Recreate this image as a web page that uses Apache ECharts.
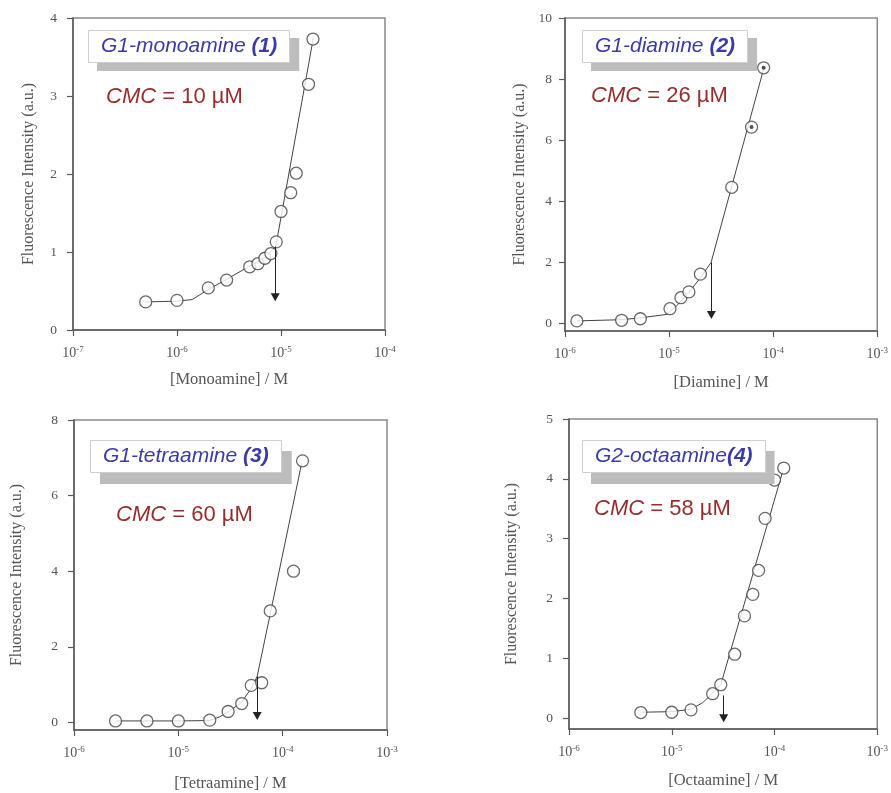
<!DOCTYPE html>
<html>
<head>
<meta charset="utf-8">
<script src="https://cdn.jsdelivr.net/npm/echarts@6/dist/echarts.min.js"></script>
<style>html,body{margin:0;padding:0;background:#fff;}#c{width:891px;height:793px;}</style>
</head>
<body>
<div id="c"></div>
<script>
// ---------- data ----------
const labels = ['G1-monoamine ', 'G1-diamine ', 'G1-tetraamine ', 'G2-octaamine'];
const labelNums = ['(1)', '(2)', '(3)', '(4)'];
const cmcTexts = ['10 µM', '26 µM', '60 µM', '58 µM'];
const xNames = ['[Monoamine] / M', '[Diamine] / M', '[Tetraamine] / M', '[Octaamine] / M'];
const yName = 'Fluorescence Intensity (a.u.)';

const xMin = [1e-7, 1e-6, 1e-6, 1e-6];
const xMax = [1e-4, 1e-3, 1e-3, 1e-3];
const yMin = [0, -0.24, -0.2, -0.18];
const yMax = [4, 10, 8, 5];
const yTicks1 = [0, 1, 2, 3, 4];
const yTicks2 = [0, 2, 4, 6, 8, 10];
const yTicks3 = [0, 2, 4, 6, 8];
const yTicks4 = [0, 1, 2, 3, 4, 5];

// measured points
const mono_x = [5e-7, 1e-6, 2e-6, 3e-6, 5e-6, 6e-6, 7e-6, 8e-6, 9e-6, 1e-5, 1.24e-5, 1.4e-5, 1.84e-5, 2.03e-5];
const mono_y = [0.36, 0.38, 0.54, 0.64, 0.81, 0.85, 0.92, 0.98, 1.13, 1.52, 1.76, 2.01, 3.15, 3.73];
const di_x = [1.3e-6, 3.5e-6, 5.3e-6, 1.02e-5, 1.3e-5, 1.55e-5, 2.0e-5, 4.0e-5, 6.2e-5, 8.1e-5];
const di_y = [0.09, 0.11, 0.16, 0.49, 0.85, 1.04, 1.62, 4.46, 6.43, 8.37];
const tetra_x = [2.5e-6, 5e-6, 1e-5, 2e-5, 3e-5, 4.05e-5, 5e-5, 6.3e-5, 7.6e-5, 1.27e-4, 1.55e-4];
const tetra_y = [0.04, 0.04, 0.04, 0.06, 0.29, 0.5, 0.98, 1.05, 2.95, 4.0, 6.92];
const octa_x = [5e-6, 1e-5, 1.54e-5, 2.5e-5, 3e-5, 4.1e-5, 5.1e-5, 6.15e-5, 7e-5, 8.1e-5, 1e-4, 1.23e-4];
const octa_y = [0.095, 0.1, 0.14, 0.41, 0.56, 1.07, 1.71, 2.07, 2.47, 3.34, 3.98, 4.18];
// points of panel 2 drawn with a dark centre (overlapping duplicate markers)
const di_dotted_x = [6.2e-5, 8.1e-5];
const di_dotted_y = [6.43, 8.37];

// fitted curves
const fit1_x = [5e-7, 1e-6, 1.4e-6, 2e-6, 3e-6, 5e-6, 7e-6, 8.9e-6, 2.05e-5];
const fit1_y = [0.36, 0.37, 0.39, 0.52, 0.65, 0.82, 0.93, 1.07, 3.75];
const fit2_x = [1.3e-6, 3.5e-6, 5.3e-6, 9.4e-6, 1.18e-5, 1.53e-5, 2e-5, 2.53e-5, 8.2e-5];
const fit2_y = [0.09, 0.13, 0.19, 0.3, 0.58, 1.0, 1.5, 2.0, 8.4];
const fit3_x = [2.5e-6, 5e-6, 1e-5, 2e-5, 2.5e-5, 3e-5, 4e-5, 5e-5, 5.7e-5, 1.52e-4];
const fit3_y = [0.04, 0.04, 0.04, 0.05, 0.15, 0.28, 0.52, 0.9, 1.22, 6.85];
const fit4_x = [5e-6, 1e-5, 1.54e-5, 2e-5, 2.5e-5, 3e-5, 1.2e-4];
const fit4_y = [0.1, 0.11, 0.15, 0.26, 0.42, 0.56, 4.12];

// CMC arrows
const arrowX = [8.8e-6, 2.55e-5, 5.7e-5, 3.2e-5];
const arrowFrom = [1.07, 2.0, 1.22, 0.38];
const arrowTo = [0.42, 0.28, 0.17, 0.0];

// ---------- layout ----------
const grids = [
  {left: 73, top: 18, width: 312, height: 312},
  {left: 565, top: 18, width: 313, height: 313},
  {left: 74, top: 420, width: 313, height: 313},
  {left: 569, top: 419, width: 309, height: 310}
];
const yNameGap = [36, 37, 49, 49];
const xNameGap = [41, 43, 45, 43];
const yLabelMargin = [16, 13, 16, 16];
const labelPos = [[88, 30], [582, 30], [90, 440], [582, 440]];
const shadowOff = [[9, 8], [9, 8], [10, 11], [9, 11]];
const cmcPos = [[106, 86], [591, 85], [116, 504], [594, 498]];

const pts = [[mono_x, mono_y], [di_x, di_y], [tetra_x, tetra_y], [octa_x, octa_y]];
const fits = [[fit1_x, fit1_y], [fit2_x, fit2_y], [fit3_x, fit3_y], [fit4_x, fit4_y]];
const yTicks = [yTicks1, yTicks2, yTicks3, yTicks4];

const zip = (a, b) => a.map((v, i) => [v, b[i]]);
const serif = 'Liberation Serif';
const sans = 'Liberation Sans';
const axisCol = '#5a5a5a';
const textCol = '#555';

const option = {
  backgroundColor: '#fff',
  animation: false,
  title: [],
  grid: grids.map(g => Object.assign({show: true, borderColor: '#8a8a8a', borderWidth: 1.5, backgroundColor: 'transparent'}, g)),
  xAxis: [], yAxis: [], series: []
};

function labelRich(col) {
  return {
    t: {fontFamily: sans, fontSize: 21, fontStyle: 'italic', fontWeight: 'normal', color: col},
    n: {fontFamily: sans, fontSize: 21, fontStyle: 'italic', fontWeight: 'bold', color: col}
  };
}

for (let i = 0; i < 4; i++) {
  option.xAxis.push({
    type: 'log', logBase: 10, gridIndex: i, min: xMin[i], max: xMax[i],
    name: xNames[i], nameLocation: 'middle', nameGap: xNameGap[i],
    nameTextStyle: {fontFamily: serif, fontSize: 16.5, color: textCol},
    axisLine: {onZero: false, lineStyle: {color: axisCol, width: 1.5}},
    axisTick: {show: true, inside: false, length: 6, lineStyle: {color: axisCol, width: 1.2}},
    minorTick: {show: false},
    splitLine: {show: false},
    axisLabel: {
      margin: 15,
      formatter: v => '{b|10}{s|' + Math.round(Math.log10(v)) + '}',
      rich: {
        b: {fontFamily: serif, fontSize: 14, color: textCol, lineHeight: 16},
        s: {fontFamily: serif, fontSize: 9, color: textCol, verticalAlign: 'top', lineHeight: 16, padding: [0, 0, 6, 0]}
      }
    }
  });
  option.yAxis.push({
    type: 'value', gridIndex: i, min: yMin[i], max: yMax[i],
    name: yName, nameLocation: 'middle', nameGap: yNameGap[i],
    nameTextStyle: {fontFamily: serif, fontSize: 16, color: textCol},
    axisLine: {show: true, onZero: false, lineStyle: {color: axisCol, width: 1.5}},
    axisTick: {show: true, length: 6, customValues: yTicks[i], lineStyle: {color: axisCol, width: 1.2}},
    splitLine: {show: false},
    axisLabel: {customValues: yTicks[i], margin: yLabelMargin[i], fontFamily: serif, fontSize: 13.5, color: textCol}
  });
  option.series.push({
    type: 'line', xAxisIndex: i, yAxisIndex: i, data: zip(fits[i][0], fits[i][1]),
    showSymbol: false, symbol: 'none', lineStyle: {color: '#444', width: 1}, z: 2, silent: true
  });
  option.series.push({
    type: 'scatter', xAxisIndex: i, yAxisIndex: i, data: zip(pts[i][0], pts[i][1]),
    symbol: 'circle', symbolSize: 12,
    itemStyle: {color: '#fff', borderColor: '#444', borderWidth: 1.3}, z: 3
  });
  option.series.push({
    type: 'line', xAxisIndex: i, yAxisIndex: i, data: [], z: 4,
    markLine: {
      silent: true, animation: false,
      symbol: ['none', 'triangle'], symbolSize: [9, 8],
      label: {show: false},
      lineStyle: {color: '#222', width: 1, type: 'solid'},
      data: [[{coord: [arrowX[i], arrowFrom[i]]}, {coord: [arrowX[i], arrowTo[i]]}]]
    }
  });
  const txt = '{t|' + labels[i] + '}{n|' + labelNums[i] + '}';
  option.title.push({
    left: labelPos[i][0] + shadowOff[i][0], top: labelPos[i][1] + shadowOff[i][1],
    text: txt, z: 5,
    backgroundColor: '#bdbdbd', borderWidth: 0,
    padding: [6, 13, 6, 13],
    textStyle: {fontWeight: 'normal', rich: labelRich('rgba(0,0,0,0)')}
  });
  option.title.push({
    left: labelPos[i][0], top: labelPos[i][1],
    text: txt, z: 6,
    backgroundColor: '#fff', borderColor: '#cfcfcf', borderWidth: 1,
    padding: [6, 13, 6, 13],
    textStyle: {fontWeight: 'normal', rich: labelRich('#3a3aa8')}
  });
  option.title.push({
    left: cmcPos[i][0], top: cmcPos[i][1],
    text: '{i|CMC}{r| = ' + cmcTexts[i] + '}',
    padding: 0, z: 6,
    textStyle: {
      fontWeight: 'normal',
      rich: {
        i: {fontFamily: sans, fontSize: 22, fontStyle: 'italic', fontWeight: 'normal', color: '#962e2e'},
        r: {fontFamily: sans, fontSize: 22, fontWeight: 'normal', color: '#962e2e'}
      }
    }
  });
}

option.series.push({
  type: 'scatter', xAxisIndex: 1, yAxisIndex: 1, data: zip(di_dotted_x, di_dotted_y),
  symbol: 'circle', symbolSize: 4, itemStyle: {color: '#222'}, z: 4, silent: true
});

const chart = echarts.init(document.getElementById('c'), null, {renderer: 'canvas'});
chart.setOption(option);
</script>
</body>
</html>
